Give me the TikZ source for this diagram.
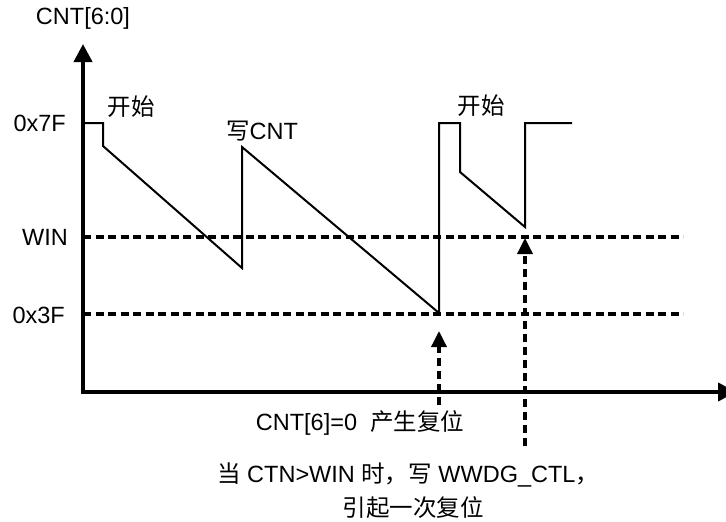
\documentclass[tikz,border=0pt]{standalone}
\usepackage{fontspec}
\setmainfont{Liberation Sans}
\newfontfamily\cjk{Noto Sans CJK SC}
\usetikzlibrary{arrows.meta}
\tikzset{
  lbl/.style={inner sep=0pt, font=\fontsize{23.5}{27}\selectfont},
  axisline/.style={line width=4pt, -{Triangle[length=18pt,width=18pt]}},
  wave/.style={line width=2pt, line join=miter},
  level/.style={line width=3.5pt, dash pattern=on 8pt off 4.5pt},
  darrow/.style={line width=3.5pt, dash pattern=on 8pt off 5pt, -{Triangle[length=16pt,width=15pt]}}
}
\begin{document}
\begin{tikzpicture}[x=1pt,y=-1pt]
\useasboundingbox (0,0) rectangle (726,522);
% axes
\coordinate (O) at (83,392);
\coordinate (Ytop) at (83,44);
\coordinate (Xend) at (736,392);
\draw[axisline] (83,394) -- (Ytop);
\draw[axisline] (81,392) -- (Xend);
% levels
\coordinate (w0) at (83,237); \coordinate (w1) at (683,237);
\coordinate (f0) at (83,314); \coordinate (f1) at (683,314);
\draw[level] (w0) -- (w1);
\draw[level] (f0) -- (f1);
% waveform
\draw[wave] (83,123) -- (103,123) -- (103,146) -- (242,268) -- (242,147) -- (439,313)
  -- (439,123) -- (460,123) -- (460,172) -- (525,227) -- (525,123) -- (572,123);
% dashed arrows
\coordinate (a1s) at (439,405); \coordinate (a1e) at (439,331);
\coordinate (a2s) at (525,446); \coordinate (a2e) at (525,238);
\draw[darrow] (a1s) -- (a1e);
\draw[darrow] (a2s) -- (a2e);
% labels
\node[lbl] (ylab) at (83,18) {CNT[6:0]};
\node[lbl, anchor=east] (l7f) at (66,123) {0x7F};
\node[lbl, anchor=east] (lwin) at (68,237) {WIN};
\node[lbl, anchor=east] (l3f) at (65,315) {0x3F};
\node[lbl] (start1) at (131,107) {\cjk 开始};
\node[lbl] (wcnt) at (262,131) {{\cjk 写}CNT};
\node[lbl] (start2) at (481,106) {\cjk 开始};
\node[lbl] (rst) at (360,423) {CNT[6]=0\ \ {\cjk 产生复位}};
\node[lbl, anchor=west] (note1) at (217,475) {{\cjk 当} CTN>WIN {\cjk 时，写} WWDG\_CTL{\cjk ，}};
\node[lbl] (note2) at (413,508) {\cjk 引起一次复位};
\end{tikzpicture}
\end{document}
